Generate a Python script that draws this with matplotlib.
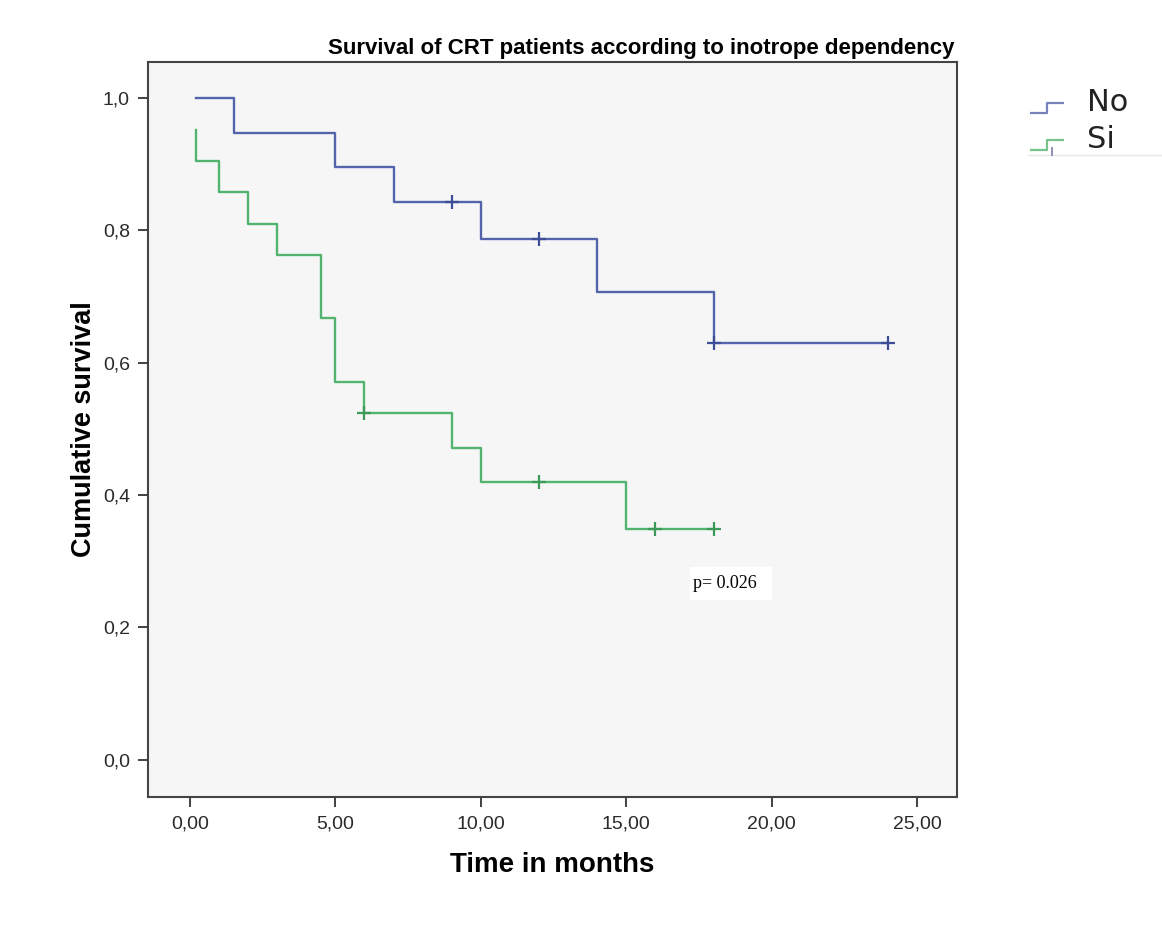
import matplotlib
matplotlib.use('Agg')
import matplotlib.pyplot as plt
from matplotlib.lines import Line2D
from matplotlib.path import Path
from matplotlib.patches import Rectangle
from matplotlib.ticker import FuncFormatter

plt.rcParams['font.family'] = ['Liberation Sans', 'DejaVu Sans']

# Kaplan-Meier steps per group
no_times = [0.2, 1.5, 5, 7, 10, 14, 18, 24]
no_surv = [1.0, 0.947, 0.895, 0.842, 0.786, 0.707, 0.629, 0.629]
no_cens_t = [9, 12, 18, 24]
no_cens_s = [0.842, 0.786, 0.629, 0.629]

si_times = [0.2, 0.2, 1, 2, 3, 4.5, 5, 6, 9, 10, 15, 18]
si_surv = [0.952, 0.905, 0.857, 0.810, 0.762, 0.667, 0.571, 0.524, 0.471, 0.419, 0.349, 0.349]
si_cens_t = [6, 12, 16, 18]
si_cens_s = [0.524, 0.419, 0.349, 0.349]

groups = ['No', 'Si']
x_ticks = [0, 5, 10, 15, 20, 25]
y_ticks = [0.0, 0.2, 0.4, 0.6, 0.8, 1.0]
p_text = 'p= 0.026'

blue = '#5464ab'
green = '#52b46e'

fig = plt.figure(figsize=(11.62, 9.39), dpi=100)
ax = fig.add_axes([0.1274, 0.1512, 0.6962, 0.7828])
ax.set_facecolor('#f6f6f6')

ax.step(no_times, no_surv, where='post', color=blue, lw=1.7)
ax.plot(no_cens_t, no_cens_s, linestyle='none', marker='+', ms=10, mew=1.6, color='#3d4d98')
ax.step(si_times, si_surv, where='post', color=green, lw=1.7)
ax.plot(si_cens_t, si_cens_s, linestyle='none', marker='+', ms=10, mew=1.6, color='#3c9a58')

ax.set_xlim(-1.44, 26.37)
ax.set_ylim(-0.056, 1.054)
ax.set_xticks(x_ticks)
ax.set_yticks(y_ticks)
ax.xaxis.set_major_formatter(FuncFormatter(lambda v, p: f'{v:.2f}'.replace('.', ',')))
ax.yaxis.set_major_formatter(FuncFormatter(lambda v, p: f'{v:.1f}'.replace('.', ',')))
ax.tick_params(direction='out', length=7, width=1.3, color='#333333',
               labelsize=14, labelcolor='#2a2a2a', pad=6)
for s in ax.spines.values():
    s.set_color('#444444')
    s.set_linewidth(1.5)

ax.set_xlabel('Time in months', fontsize=20, fontweight='bold', labelpad=14)
ax.set_ylabel('Cumulative survival', fontsize=19.5, fontweight='bold', labelpad=4)
fig.text(0.552, 0.937, 'Survival of CRT patients according to inotrope dependency',
         ha='center', va='bottom', fontsize=16, fontweight='bold')

# p-value label on a white box
ax.add_patch(Rectangle((17.19, 0.242), 2.82, 0.0495, facecolor='white', edgecolor='none'))
ax.text(17.3, 0.267, p_text, ha='left', va='center', fontsize=13,
        family='Liberation Serif')

# step-shaped legend handles, sitting a bit below the label centre
step = Path([(-1, -0.78), (0, -0.78), (0, -0.18), (1, -0.18)],
            [Path.MOVETO, Path.LINETO, Path.LINETO, Path.LINETO])
handles = [Line2D([0], [0], color=c, marker=step, ms=24, mew=1.6, mfc='none',
                  linestyle='none', alpha=0.8)
           for c in (blue, green)]
fig.legend(handles, groups, loc='upper left', bbox_to_anchor=(1023 / 1162, 1 - 88 / 939),
           frameon=False, handlelength=1.6, handletextpad=0.5, borderpad=0,
           borderaxespad=0, labelspacing=0.25,
           prop={'family': 'DejaVu Sans', 'size': 22}, labelcolor='#222222')

# clipped edge of the legend block
fig.add_artist(Line2D([1028 / 1162, 1.0], [1 - 155 / 939] * 2, color='#e6e6e6', lw=1))
fig.add_artist(Line2D([1052 / 1162] * 2, [1 - 148 / 939, 1 - 155 / 939], color='#8a90b8', lw=1.4))

fig.savefig('out.png', dpi=100, facecolor='white')
